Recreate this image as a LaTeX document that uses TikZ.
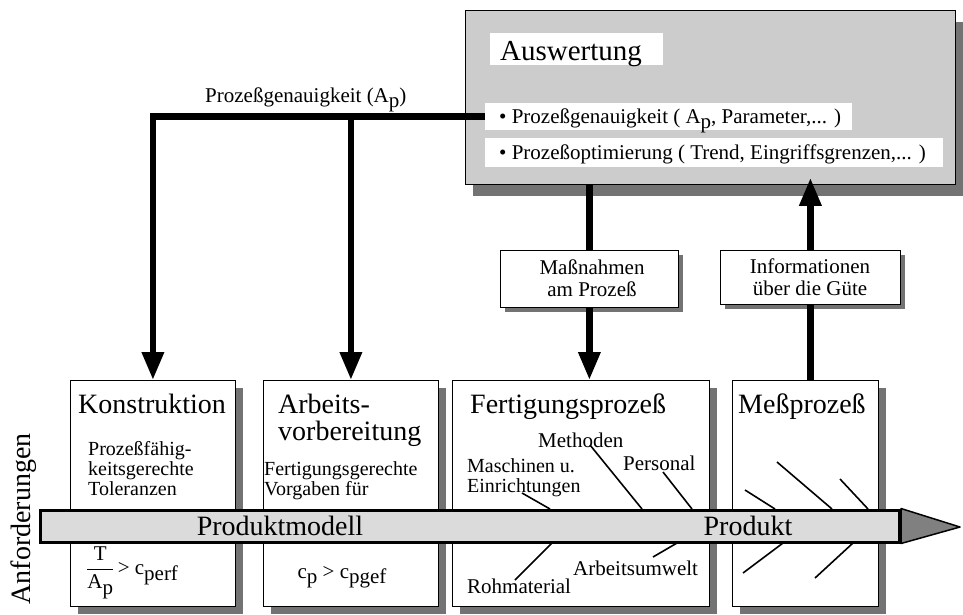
\documentclass[tikz,border=0pt]{standalone}
\usepackage{fontspec}
\usepackage{amsmath}
\setmainfont{Liberation Serif}
\usetikzlibrary{arrows.meta,calc,shadows}

\definecolor{lightdots}{gray}{0.80}
\definecolor{darkdots}{gray}{0.45}
\definecolor{banddots}{gray}{0.86}
\definecolor{headdots}{gray}{0.50}

% lowered index letters as in the original typesetting
\newcommand\lowsub[1]{\raisebox{-0.28em}{#1}}

\tikzset{
  titletext/.style={font=\fontsize{28}{27}\selectfont, inner sep=0pt, anchor=base west},
  bodytext/.style={font=\fontsize{21}{19}\selectfont, inner sep=0pt, anchor=base west},
  smalltext/.style={font=\fontsize{20}{19}\selectfont, inner sep=0pt, anchor=base west},
  stagebox/.style={draw, line width=0.8pt, fill=white, anchor=north west, inner sep=0pt,
    drop shadow={shadow xshift=8pt, shadow yshift=-8pt, fill=darkdots, opacity=1}},
  notebox/.style={draw, line width=0.8pt, fill=white, anchor=north west, inner sep=0pt,
    drop shadow={shadow xshift=5pt, shadow yshift=-5pt, fill=darkdots, opacity=1}},
  whitepad/.style={fill=white, anchor=north west, inner sep=0pt},
  flow/.style={line width=6.5pt, -{Triangle[length=28pt,width=21pt]}},
  plainflow/.style={line width=6.5pt},
  bone/.style={line width=1.6pt},
}

\begin{document}
\begin{tikzpicture}[x=1pt,y=-1pt]
\useasboundingbox (0,0) rectangle (963,614);

% ---------- evaluation block ----------
\node[draw, line width=0.8pt, fill=lightdots, anchor=north west, inner sep=0pt,
      minimum width=490pt, minimum height=174pt,
      drop shadow={shadow xshift=8pt, shadow yshift=-12pt, fill=darkdots, opacity=1}]
      (ausw) at (465,10) {};
\node[whitepad, minimum width=173pt, minimum height=32pt] (awpad) at (490,33) {};
\node[whitepad, minimum width=367pt, minimum height=27pt] (g1) at (485,103) {};
\node[whitepad, minimum width=458pt, minimum height=29pt] (g2) at (485,138) {};
\node[titletext, font=\fontsize{29}{29}\selectfont] (awtitle) at (500,60) {Auswertung};
\node[bodytext] (g1text) at (499,123) {• Prozeßgenauigkeit ( A\lowsub{p}, Parameter,... )};
\node[bodytext] (g2text) at (499,159) {• Prozeßoptimierung ( Trend, Eingriffsgrenzen,... )};

\node[bodytext] (aplabel) at (205,102) {Prozeßgenauigkeit (A\lowsub{p})};

% ---------- intermediate notes ----------
\node[notebox, minimum width=178pt, minimum height=57pt] (mass) at (500,250) {};
\node[bodytext, anchor=base] (mass1) at (592,274) {Maßnahmen};
\node[bodytext, anchor=base] (mass2) at (592,296) {am Prozeß};

\node[notebox, minimum width=180pt, minimum height=54pt] (info) at (720,250) {};
\node[bodytext, anchor=base] (info1) at (810,273) {Informationen};
\node[bodytext, anchor=base] (info2) at (810,295) {über die Güte};

% ---------- stages ----------
\node[stagebox, minimum width=165pt, minimum height=226pt] (kon)  at (70,380)  {};
\node[stagebox, minimum width=175pt, minimum height=226pt] (arb)  at (263,380) {};
\node[stagebox, minimum width=257pt, minimum height=226pt] (fert) at (452,380) {};
\node[stagebox, minimum width=146pt, minimum height=226pt] (mess) at (732,380) {};

\node[titletext] (kont) at (78,413) {Konstruktion};
\node[smalltext] (kon1) at (88,455) {Prozeßfähig-};
\node[smalltext] (kon2) at (88,475) {keitsgerechte};
\node[smalltext] (kon3) at (88,495) {Toleranzen};
\node[bodytext, anchor=west] (konf) at (86,573)
  {$\displaystyle\frac{\text{T}}{\text{A\lowsub{p}}}$\,> c\lowsub{perf}};

\node[titletext] (arbt1) at (278,413) {Arbeits-};
\node[titletext] (arbt2) at (278,440) {vorbereitung};
\node[smalltext] (arb1) at (264,475) {Fertigungsgerechte};
\node[smalltext] (arb2) at (264,495) {Vorgaben für};
\node[bodytext, anchor=base] (arbf) at (342,578) {c\lowsub{p} > c\lowsub{pgef}};

\node[titletext] (fertt) at (470,413) {Fertigungsprozeß};
\node[bodytext] (methoden) at (538,447) {Methoden};
\node[smalltext] (masch1) at (467,472) {Maschinen u.};
\node[smalltext] (masch2) at (467,492) {Einrichtungen};
\node[bodytext] (personal) at (623,470) {Personal};
\node[bodytext] (umwelt) at (573,575) {Arbeitsumwelt};
\node[bodytext] (roh) at (467,593) {Rohmaterial};

\node[titletext] (messt) at (738,413) {Meßprozeß};

\node[titletext, anchor=center, rotate=90] (anf) at (24,519) {Anforderungen};

% ---------- cause and effect branches ----------
\coordinate (b1a) at (522,493); \coordinate (b1b) at (550,509);
\coordinate (b2a) at (590,445); \coordinate (b2b) at (642,509);
\coordinate (b3a) at (663,472); \coordinate (b3b) at (692,509);
\coordinate (b4a) at (515,580); \coordinate (b4b) at (552,543);
\coordinate (b5a) at (653,557); \coordinate (b5b) at (677,543);
\coordinate (m1a) at (745,490); \coordinate (m1b) at (775,509);
\coordinate (m2a) at (777,462); \coordinate (m2b) at (832,509);
\coordinate (m3a) at (840,479); \coordinate (m3b) at (868,509);
\coordinate (m4a) at (743,573); \coordinate (m4b) at (783,543);
\coordinate (m5a) at (815,578); \coordinate (m5b) at (853,543);
\foreach \p in {b1,b2,b3,b4,b5,m1,m2,m3,m4,m5}
  \draw[bone] (\p a) -- (\p b);

% ---------- product band ----------
\node[draw, line width=3pt, fill=banddots, anchor=west, inner sep=0pt,
      minimum width=859pt, minimum height=32pt] (band) at (39,526) {};
\coordinate (tip) at (960,527);
\draw[line width=1.5pt, line join=round, fill=headdots]
  (band.north east) -- (tip) -- (band.south east) -- cycle;
\node[titletext, anchor=base] (pm) at (280,535) {Produktmodell};
\node[titletext, anchor=base] (pr) at (748,535) {Produkt};

% ---------- connectors ----------
\draw[flow] (g1.west) -| (kon.north);
\draw[flow] (g1.west -| arb.north) -- (arb.north);
\draw[plainflow] (mass.north |- ausw.south) -- (mass.north);
\draw[flow] (mass.south) -- (mass.south |- fert.north);
\draw[plainflow] (info.south |- mess.north) -- (info.south);
\draw[flow, shorten >=-7pt] (info.north) -- (info.north |- ausw.south);
\end{tikzpicture}
\end{document}
